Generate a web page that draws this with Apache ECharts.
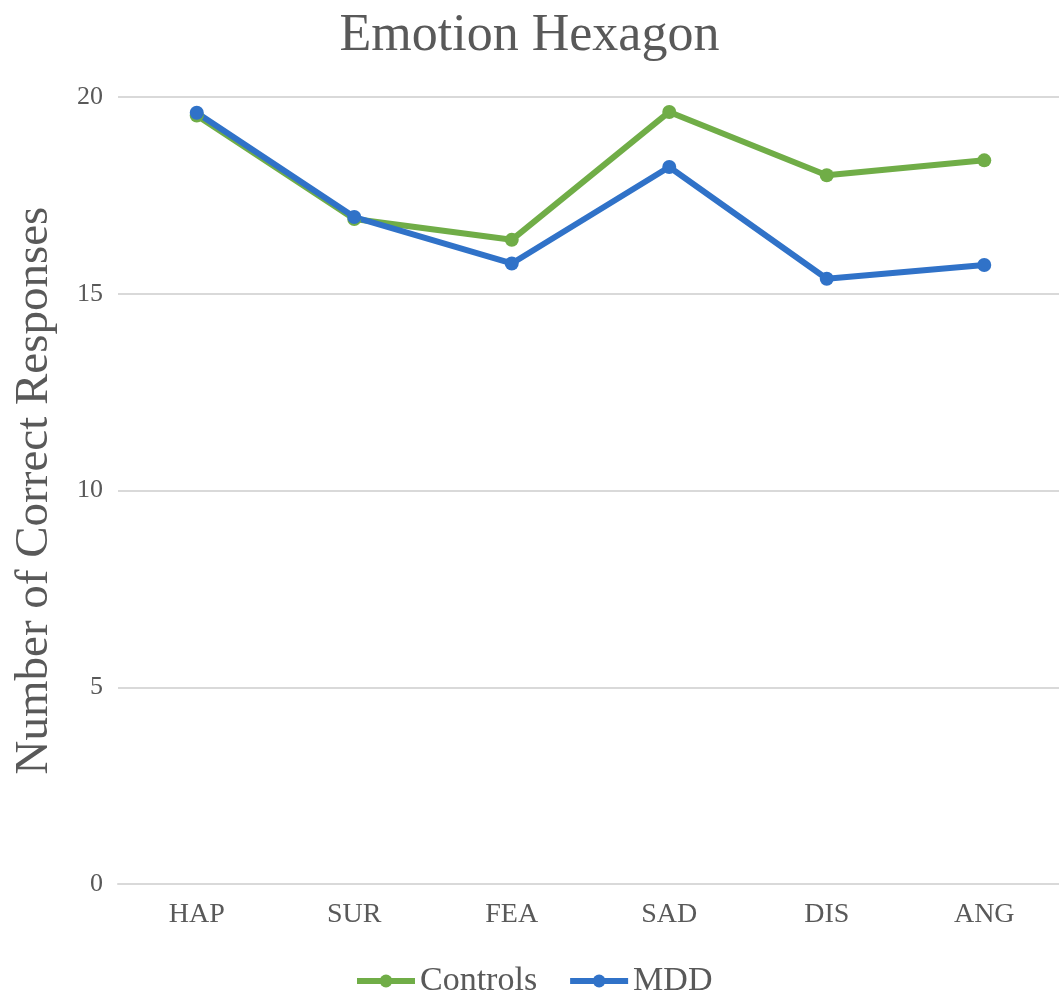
<!DOCTYPE html>
<html>
<head>
<meta charset="utf-8">
<script src="https://cdn.jsdelivr.net/npm/echarts@6/dist/echarts.min.js"></script>
<style>
  html, body { margin: 0; padding: 0; background: #ffffff; }
  #chart { width: 1059px; height: 998px; }
</style>
</head>
<body>
<div id="chart"></div>
<script>
// Emotion categories on the x axis
const categories = ['HAP', 'SUR', 'FEA', 'SAD', 'DIS', 'ANG'];
// Mean number of correct responses per group
const controls = [19.53, 16.9, 16.37, 19.62, 18.01, 18.39];
const mdd = [19.6, 16.95, 15.77, 18.22, 15.38, 15.73];
// Y axis range and step
const yMin = 0, yMax = 20, yStep = 5;

const serif = '"Liberation Serif", "DejaVu Serif", serif';
const textGrey = '#595959';
const green = '#70AD47';
const blue = '#3072C8';

const chart = echarts.init(document.getElementById('chart'), null, { renderer: 'canvas' });

chart.setOption({
  animation: false,
  backgroundColor: '#ffffff',
  title: {
    text: 'Emotion Hexagon',
    left: 'center',
    top: 5,
    textStyle: { fontFamily: serif, fontSize: 52, fontWeight: 'normal', color: textGrey }
  },
  grid: {
    left: 118, top: 97, width: 945, height: 787,
    containLabel: false,
    outerBoundsMode: 'none'
  },
  legend: {
    data: ['Controls', 'MDD'],
    left: 349,
    top: 959,
    itemWidth: 58,
    itemHeight: 16,
    itemGap: 30,
    lineStyle: { width: 6 },
    textStyle: { fontFamily: serif, fontSize: 34, color: textGrey }
  },
  xAxis: {
    type: 'category',
    data: categories,
    boundaryGap: true,
    axisLine: { show: true, lineStyle: { color: '#d9d9d9', width: 2 } },
    axisTick: { show: false },
    axisLabel: { margin: 17, fontFamily: serif, fontSize: 28, color: textGrey }
  },
  yAxis: {
    type: 'value',
    min: yMin,
    max: yMax,
    interval: yStep,
    name: 'Number of Correct Responses',
    nameLocation: 'middle',
    nameGap: 60,
    nameTextStyle: { fontFamily: serif, fontSize: 47, color: textGrey },
    axisLine: { show: false },
    axisTick: { show: false },
    axisLabel: { margin: 15, fontFamily: serif, fontSize: 26, color: textGrey },
    splitLine: { show: true, lineStyle: { color: '#d9d9d9', width: 2 } }
  },
  series: [
    {
      name: 'Controls',
      type: 'line',
      data: controls,
      symbol: 'circle',
      symbolSize: 14,
      itemStyle: { color: green },
      lineStyle: { color: green, width: 6 }
    },
    {
      name: 'MDD',
      type: 'line',
      data: mdd,
      symbol: 'circle',
      symbolSize: 14,
      itemStyle: { color: blue },
      lineStyle: { color: blue, width: 6 }
    }
  ]
});
</script>
</body>
</html>
